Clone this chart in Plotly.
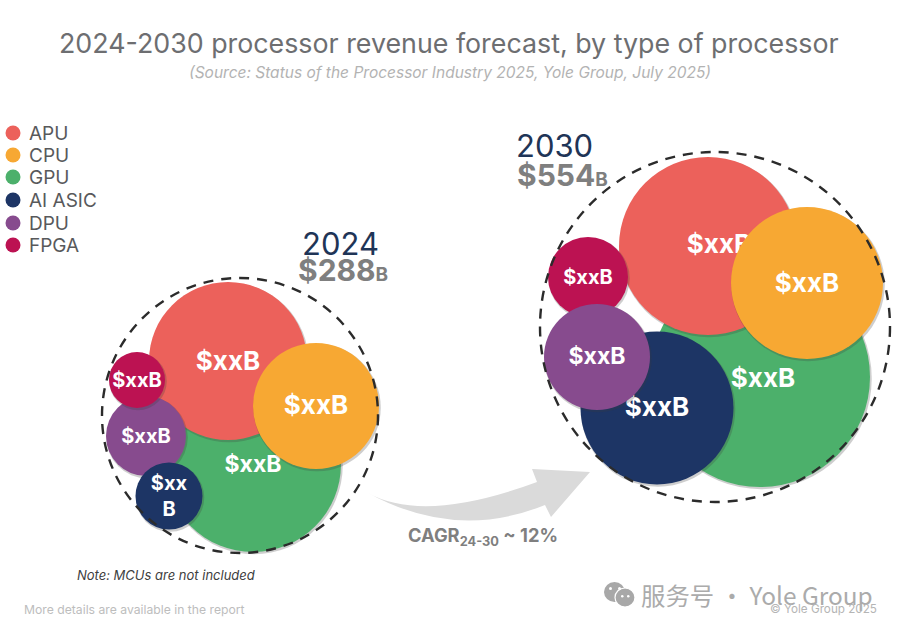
# Processor revenue forecast bubble picture, 2024 vs 2030
import plotly.graph_objects as go

categories = ["APU", "CPU", "GPU", "AI ASIC", "DPU", "FPGA"]
colors = ["#EC615B", "#F7A833", "#4CB06B", "#1D3565", "#874B8E", "#BC1252"]

# bubble centre and diameter, same order as categories
x_2024 = [228, 316, 253, 169, 146, 137]
y_2024 = [361, 406, 464, 496, 436, 380]
size_2024 = [158, 126, 176, 67, 80, 56]
label_x_2024 = [228, 316, 253, 169, 146, 137]
label_y_2024 = [363, 407, 466, 498, 438, 382]
labels_2024 = ["$xxB", "$xxB", "$xxB", "$xx<br>B", "$xxB", "$xxB"]
label_size_2024 = [26, 26, 23, 20, 20, 20]
order_2024 = [2, 0, 1, 4, 5, 3]

x_2030 = [708, 807, 760, 657, 597, 588]
y_2030 = [246, 283, 377, 408, 357, 277]
size_2030 = [178, 152, 220, 153, 106, 80]
label_x_2030 = [719, 807, 763, 657, 597, 588]
label_y_2030 = [246, 285, 380, 409, 358, 279]
labels_2030 = ["$xxB", "$xxB", "$xxB", "$xxB", "$xxB", "$xxB"]
label_size_2030 = [26, 26, 26, 26, 23, 20]
order_2030 = [2, 0, 1, 3, 5, 4]

legend_x = [13, 13, 13, 13, 13, 13]
legend_y = [133, 155, 177, 200, 223, 245]
legend_text_x = [29, 29, 29, 29, 29, 29]
legend_text_y = [135, 157, 179, 202, 225, 247]

fig = go.Figure()


def add_bubbles(xs, ys, sizes, lab_x, lab_y, labels, lab_sizes, order):
    # draw order matters: a later bubble hides the label of an earlier one
    for i in order:
        fig.add_trace(go.Scatter(x=[xs[i] + 1], y=[ys[i] + 1.5], mode="markers",
                                 marker=dict(size=sizes[i] + 1.5, color="rgba(60,60,60,0.25)", line_width=0),
                                 hoverinfo="skip", showlegend=False))
        fig.add_trace(go.Scatter(x=[xs[i]], y=[ys[i]], mode="markers", name=categories[i],
                                 marker=dict(size=sizes[i], color=colors[i], line_width=0),
                                 showlegend=False))
        fig.add_trace(go.Scatter(x=[lab_x[i]], y=[lab_y[i]], mode="text", text=[labels[i]],
                                 textposition="middle center",
                                 textfont=dict(family="Inter", size=lab_sizes[i], color="white", weight=700),
                                 hoverinfo="skip", showlegend=False))


add_bubbles(x_2024, y_2024, size_2024, label_x_2024, label_y_2024, labels_2024, label_size_2024, order_2024)
add_bubbles(x_2030, y_2030, size_2030, label_x_2030, label_y_2030, labels_2030, label_size_2030, order_2030)

# hand made legend
fig.add_trace(go.Scatter(x=legend_x, y=legend_y, mode="markers",
                         marker=dict(size=15, color=colors, line_width=0),
                         hoverinfo="skip", showlegend=False))
fig.add_trace(go.Scatter(x=legend_text_x, y=legend_text_y, mode="text", text=categories,
                         textposition="middle right",
                         textfont=dict(family="Inter", size=19, color="#58595B"),
                         hoverinfo="skip", showlegend=False))

ring = dict(color="#2B2B2B", width=2.4, dash="10px,8px")
shapes = [
    # dashed rings
    dict(type="circle", x0=102, x1=378, y0=278, y1=553, line=ring),
    dict(type="circle", x0=540, x1=890, y0=152, y1=502, line=ring),
    # CAGR arrow
    dict(type="path", path="M 368 493 Q 424 524 537 482 L 532 469 L 590 472 L 551 517 L 545 505 Q 456 541 368 493 Z",
         fillcolor="#DADADA", line_width=0),
    # watermark icon
    dict(type="circle", x0=604, x1=625, y0=582, y1=602, fillcolor="#A8A8A8", line_width=0),
    dict(type="circle", x0=615, x1=635, y0=588, y1=607, fillcolor="#A8A8A8", line=dict(color="white", width=1.2)),
    dict(type="circle", x0=609, x1=612, y0=587, y1=590, fillcolor="white", line_width=0),
    dict(type="circle", x0=618, x1=621, y0=587, y1=590, fillcolor="white", line_width=0),
    dict(type="circle", x0=621, x1=623.5, y0=595, y1=597.5, fillcolor="white", line_width=0),
    dict(type="circle", x0=627, x1=629.5, y0=595, y1=597.5, fillcolor="white", line_width=0),
]


def note(x, y, text, size, color, anchor="center", style="normal", family="Inter"):
    fig.add_annotation(x=x, y=y, text=text, showarrow=False, xanchor=anchor, yanchor="middle",
                       font=dict(family=family, size=size, color=color, style=style))


note(449, 43, "2024-2030 processor revenue forecast, by type of processor", 26.8, "#6D6E71")
note(450, 72, "(Source: Status of the Processor Industry 2025, Yole Group, July 2025)", 15.5, "#B3B3B3", style="italic")
note(300, 243, "2024", 31, "#1F3557", anchor="left")
note(296, 270, "<b>$288<span style='font-size:19px'>B</span></b>", 30, "#7F7F7F", anchor="left")
note(514, 145, "2030", 31, "#1F3557", anchor="left")
note(515, 175, "<b>$554<span style='font-size:19px'>B</span></b>", 30, "#7F7F7F", anchor="left")
note(483, 536, "<b>CAGR<sub>24-30</sub> ~ 12%</b>", 18.3, "#7F7F7F")
note(75, 575, "Note: MCUs are not included", 13, "#404040", anchor="left", style="italic")
note(22, 609, "More details are available in the report", 12.2, "#BDBDBD", anchor="left")
note(639, 594, "服务号 · Yole Group", 24.4, "#ABABAB", anchor="left", family="Noto Sans CJK SC")
note(768, 609, "© Yole Group 2025", 11.7, "#B5B5B5", anchor="left")

fig.update_xaxes(range=[0, 900], visible=False, fixedrange=True)
fig.update_yaxes(range=[630, 0], visible=False, fixedrange=True)
fig.update_layout(width=900, height=630, margin=dict(l=0, r=0, t=0, b=0),
                  paper_bgcolor="white", plot_bgcolor="white", shapes=shapes, hovermode=False)

# page has a default 8px body margin, drop it so the figure fills the window
fig.write_html("out.html", config=dict(displayModeBar=False),
               post_script="document.body.style.margin = '0';")
